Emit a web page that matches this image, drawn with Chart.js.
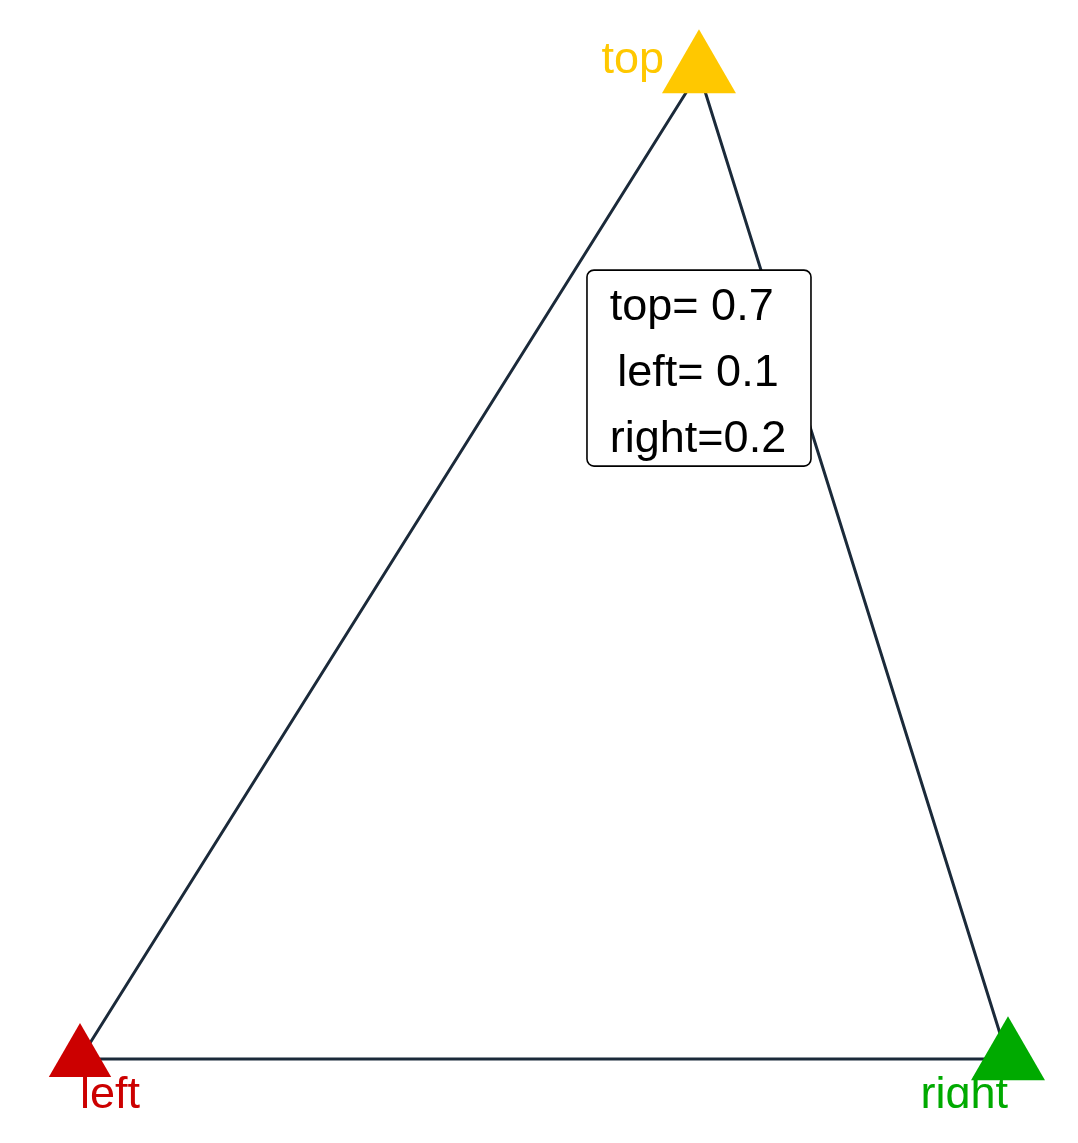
<!DOCTYPE html>
<html>
<head>
<meta charset="utf-8">
<script src="https://cdn.jsdelivr.net/npm/chart.js@4"></script>
<style>
html,body{margin:0;padding:0;background:#fff;}
#wrap{width:1078px;height:1143px;position:relative;}
</style>
</head>
<body>
<div id="wrap"><canvas id="c"></canvas></div>
<script>
// Vertex names and their positions in the plot's data space
const vertexNames = ['left', 'top', 'right'];
const vertexX = [0, 0.667, 1];
const vertexY = [0, 1, 0];
const vertexColors = ['#CC0000', '#FFC800', '#00AA00'];
const vertexMarkerSize = [36, 42.7, 42.7];
// Composition shown in the label box
const compNames = ['top', 'left', 'right'];
const compValues = [0.7, 0.1, 0.2];
const boxLines = ['top= 0.7 ', 'left= 0.1', 'right=0.2'];
const boxAnchor = {x: 0.667, y: 0.7};

const pts = vertexNames.map((n, i) => ({x: vertexX[i], y: vertexY[i]}));
const outline = [pts[0], pts[1], pts[2], pts[0]];

const labelPlugin = {
  id: 'labels',
  afterDatasetsDraw(chart) {
    const ctx = chart.ctx;
    const xs = chart.scales.x, ys = chart.scales.y;
    // vertex labels (clipped at bottom like the reference)
    ctx.save();
    ctx.beginPath();
    ctx.rect(0, 0, chart.width, ys.getPixelForValue(0) + 49);
    ctx.clip();
    ctx.font = '45px "Liberation Sans", Arial, sans-serif';
    ctx.textBaseline = 'alphabetic';
    vertexNames.forEach((n, i) => {
      const px = xs.getPixelForValue(vertexX[i]);
      const py = ys.getPixelForValue(vertexY[i]);
      ctx.fillStyle = vertexColors[i];
      if (n === 'top') {
        ctx.textAlign = 'right';
        ctx.fillText(n, px - 35, py + 1);
      } else if (n === 'left') {
        ctx.textAlign = 'left';
        ctx.fillText(n, px, py + 49);
      } else {
        ctx.textAlign = 'right';
        ctx.fillText(n, px, py + 49);
      }
    });
    ctx.restore();

    // label box
    const cx = xs.getPixelForValue(boxAnchor.x);
    const cy = ys.getPixelForValue(boxAnchor.y);
    const w = 224, h = 196, r = 7;
    const x0 = cx - w / 2, y0 = cy - h / 2;
    ctx.save();
    ctx.beginPath();
    ctx.roundRect(x0, y0, w, h, r);
    ctx.fillStyle = '#fff';
    ctx.fill();
    ctx.lineWidth = 1.6;
    ctx.strokeStyle = '#000';
    ctx.stroke();
    ctx.fillStyle = '#000';
    ctx.font = '45px "Liberation Sans", Arial, sans-serif';
    ctx.textAlign = 'center';
    ctx.textBaseline = 'alphabetic';
    boxLines.forEach((t, i) => {
      ctx.fillText(t, cx - 1, y0 + 50 + i * 66);
    });
    ctx.restore();
  }
};

new Chart(document.getElementById('c'), {
  type: 'scatter',
  data: {
    datasets: [
      {
        data: outline,
        showLine: true,
        borderColor: '#1b2a3a',
        borderWidth: 3,
        pointRadius: 0,
        fill: false,
        clip: false,
        order: 2
      },
      {
        data: pts,
        showLine: false,
        pointStyle: 'triangle',
        pointRadius: vertexMarkerSize,
        pointHoverRadius: vertexMarkerSize,
        backgroundColor: vertexColors,
        borderColor: vertexColors,
        borderWidth: 0,
        clip: false,
        order: 1
      }
    ]
  },
  options: {
    responsive: true,
    maintainAspectRatio: false,
    animation: false,
    events: [],
    layout: {padding: {left: 80, right: 70, top: 72, bottom: 84}},
    plugins: {legend: {display: false}, tooltip: {enabled: false}},
    scales: {
      x: {type: 'linear', min: 0, max: 1, display: false},
      y: {type: 'linear', min: 0, max: 1, display: false}
    }
  },
  plugins: [labelPlugin]
});
</script>
</body>
</html>
